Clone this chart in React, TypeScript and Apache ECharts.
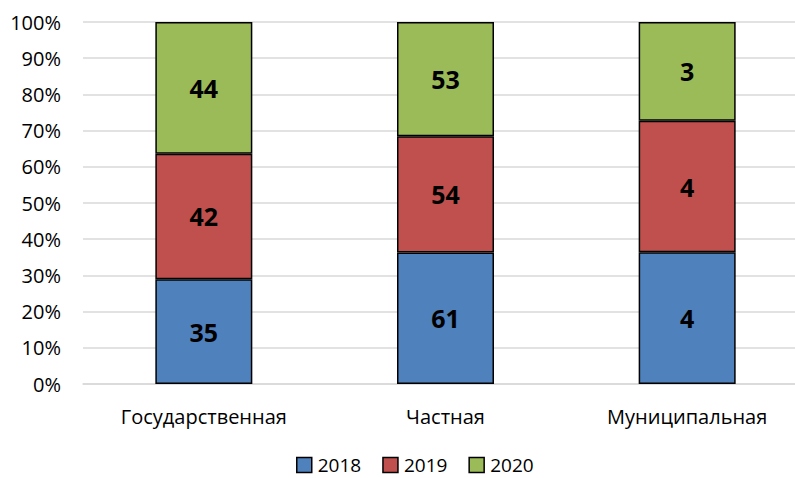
import React, { useEffect, useRef } from "react";
import * as echarts from "echarts";

const categories = ["Государственная", "Частная", "Муниципальная"];
const seriesNames = ["2018", "2019", "2020"];
const values2018 = [35, 61, 4];
const values2019 = [42, 54, 4];
const values2020 = [44, 53, 3];
const colors = ["#4F81BD", "#C0504D", "#9BBB59"];

export default function App() {
  const ref = useRef<HTMLDivElement>(null);
  useEffect(() => {
    if (!ref.current) return;
    const chart = echarts.init(ref.current, null, { renderer: "svg" });
    const raw = [values2018, values2019, values2020];
    const totals = categories.map((_, i) => raw.reduce((s, arr) => s + arr[i], 0));
    const font = "'Open Sans', 'Noto Sans', sans-serif";
    chart.setOption({
      animation: false,
      color: colors,
      legend: {
        top: 455,
        left: 296,
        padding: 0,
        itemWidth: 15,
        itemHeight: 15,
        itemGap: 21,
        icon: "rect",
        itemStyle: { borderColor: "#000", borderWidth: 1.5 },
        textStyle: { fontFamily: font, fontSize: 19, lineHeight: 20, color: "#000", padding: [0, 0, 0, 1] },
        data: seriesNames,
      },
      grid: { left: 83, right: 2, top: 22, bottom: 94 },
      xAxis: {
        type: "category",
        data: categories,
        axisTick: { show: false },
        axisLine: { lineStyle: { color: "#d9d9d9", width: 1.5 } },
        axisLabel: { fontFamily: font, fontSize: 20, color: "#000", margin: 22 },
      },
      yAxis: {
        type: "value",
        min: 0,
        max: 100,
        interval: 10,
        axisLine: { show: false },
        axisTick: { show: false },
        splitLine: { lineStyle: { color: "#d9d9d9", width: 1.5 } },
        axisLabel: { fontFamily: font, fontSize: 20, color: "#000", margin: 22, formatter: "{value}%" },
      },
      series: raw.map((arr, si) => ({
        name: seriesNames[si],
        type: "bar",
        stack: "total",
        barWidth: 97,
        data: arr.map((v, i) => (v / totals[i]) * 100),
        itemStyle: { borderColor: "#000", borderWidth: 1.5 },
        label: {
          show: true,
          position: "inside",
          fontFamily: font,
          fontWeight: "bold",
          fontSize: 25,
          color: "#000",
          formatter: (p: any) => String(arr[p.dataIndex]),
        },
      })),
    });
    return () => chart.dispose();
  }, []);
  return (
    <div style={{ position: "absolute", left: 0, top: 0, width: 795, height: 478, overflow: "hidden", background: "#fff" }}>
      <div ref={ref} style={{ width: 810, height: 478 }} />
    </div>
  );
}
